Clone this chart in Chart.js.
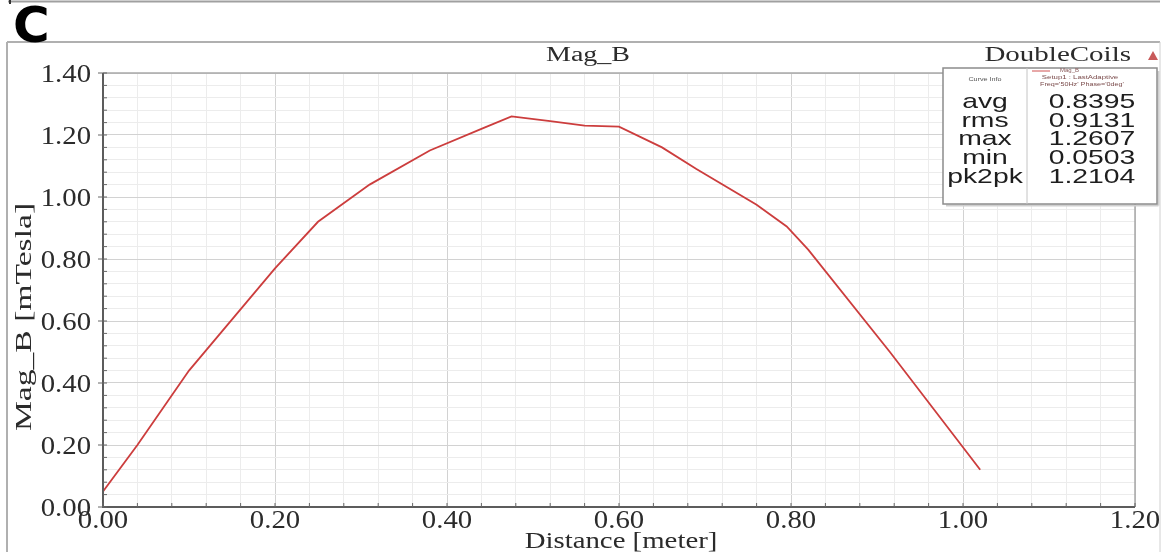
<!DOCTYPE html>
<html lang="en">
<head>
  <meta charset="UTF-8" />
  <title>Mag_B - DoubleCoils</title>
  <script src="https://cdn.jsdelivr.net/npm/chart.js@4.4.1/dist/chart.umd.min.js"></script>
  <style>
    html, body { margin: 0; padding: 0; background: #fff; }
    #wrap { width: 1167px; height: 552px; }
  </style>
</head>
<body>
<div id="wrap"><canvas id="magChart" width="1167" height="552"></canvas></div>
<script>
  // distance along the coil axis [meter] and |B| [mTesla]
  const distance = [0.00, 0.04, 0.10, 0.20, 0.25, 0.31, 0.38, 0.44, 0.475, 0.52, 0.56, 0.60, 0.65, 0.69, 0.76, 0.795, 0.82, 0.915, 1.02];
  const magB = [0.05, 0.20, 0.44, 0.77, 0.92, 1.04, 1.15, 1.22, 1.26, 1.245, 1.23, 1.227, 1.16, 1.09, 0.975, 0.905, 0.83, 0.50, 0.12];

  const xTickLabels = ["0.00", "0.20", "0.40", "0.60", "0.80", "1.00", "1.20"];
  const yTickLabels = ["0.00", "0.20", "0.40", "0.60", "0.80", "1.00", "1.20", "1.40"];

  const statNames = ["avg", "rms", "max", "min", "pk2pk"];
  const statValues = ["0.8395", "0.9131", "1.2607", "0.0503", "1.2104"];

  const minorStep = 0.04;
  const serif = '"Liberation Serif", "Times New Roman", serif';
  const sans = '"Liberation Sans", Arial, sans-serif';

  function gridValues(max) {
    const out = [];
    const n = Math.round(max / minorStep);
    for (let i = 0; i <= n; i++) out.push({ value: Math.round(i * minorStep * 100) / 100 });
    return out;
  }

  function isMajor(v) {
    return Math.abs(v / 0.2 - Math.round(v / 0.2)) < 1e-6;
  }

  // text in the reference is a bit stretched sideways, so draw with a x-scale
  function stretchText(ctx, text, x, y, font, sx, align, color) {
    ctx.save();
    ctx.font = font;
    ctx.fillStyle = color || "#2b2b2b";
    ctx.textAlign = align || "left";
    ctx.textBaseline = "alphabetic";
    ctx.translate(x, y);
    ctx.scale(sx, 1);
    ctx.fillText(text, 0, 0);
    ctx.restore();
  }

  function line(ctx, x1, y1, x2, y2, color, w) {
    ctx.beginPath();
    ctx.moveTo(x1, y1);
    ctx.lineTo(x2, y2);
    ctx.strokeStyle = color;
    ctx.lineWidth = w;
    ctx.stroke();
  }

  const decor = {
    id: "decor",
    beforeDraw(chart) {
      const ctx = chart.ctx;
      ctx.save();
      // frame bits
      line(ctx, 8, 1.5, 1160, 1.5, "#a0a0a0", 2);
      line(ctx, 10, 0, 10, 4, "#333", 2);
      line(ctx, 7, 42, 1160, 42, "#b0b0b0", 2);
      line(ctx, 7, 42, 7, 552, "#b0b0b0", 2);
      line(ctx, 1160, 42, 1160, 552, "#d0d0d0", 1);
      ctx.restore();

      // panel letter
      ctx.save();
      ctx.font = 'bold 50px "DejaVu Sans", sans-serif';
      ctx.fillStyle = "#000";
      ctx.textBaseline = "alphabetic";
      ctx.fillText("C", 13, 42);
      ctx.restore();

      stretchText(ctx, "Mag_B", 588, 61, "20px " + serif, 1.4, "center");
      stretchText(ctx, "DoubleCoils", 1131, 61, "20px " + serif, 1.45, "right");
      ctx.save();
      ctx.beginPath();
      ctx.moveTo(1153, 51);
      ctx.lineTo(1158, 60);
      ctx.lineTo(1148, 60);
      ctx.closePath();
      ctx.fillStyle = "#c85a5a";
      ctx.fill();
      ctx.restore();
    },
    afterDatasetsDraw(chart) {
      const ctx = chart.ctx;
      const a = chart.chartArea;
      const xs = chart.scales.x;
      const ys = chart.scales.y;
      ctx.save();

      // plot border
      line(ctx, a.left, a.top, a.right, a.top, "#a8a8a8", 1.5);
      line(ctx, a.right, a.top, a.right, a.bottom, "#a8a8a8", 1.5);
      line(ctx, a.left, a.top, a.left, a.bottom + 1, "#5c5c5c", 2);
      line(ctx, a.left - 1, a.bottom, a.right, a.bottom, "#5c5c5c", 2);

      // small tick marks
      xs.ticks.forEach(t => {
        const px = xs.getPixelForValue(t.value);
        line(ctx, px, a.bottom, px, a.bottom - 4, "#666", 1);
      });
      ys.ticks.forEach(t => {
        const py = ys.getPixelForValue(t.value);
        line(ctx, a.left, py, a.left + 4, py, "#666", 1);
        if (isMajor(t.value)) line(ctx, a.left - 5, py, a.left, py, "#666", 1);
      });
      ctx.restore();

      // tick labels
      xTickLabels.forEach(l => {
        stretchText(ctx, l, xs.getPixelForValue(parseFloat(l)), 528, "25px " + serif, 1.15, "center");
      });
      yTickLabels.forEach(l => {
        stretchText(ctx, l, 91, ys.getPixelForValue(parseFloat(l)) + 8.5, "25px " + serif, 1.15, "right");
      });

      // axis titles
      stretchText(ctx, "Distance [meter]", 621, 548, "24px " + serif, 1.2, "center");
      ctx.save();
      ctx.translate(31, 317);
      ctx.rotate(-Math.PI / 2);
      stretchText(ctx, "Mag_B [mTesla]", 0, 0, "24px " + serif, 1.4, "center");
      ctx.restore();

      // curve info box
      const bx = 943, by = 68, bw = 214, bh = 136, div = 1027;
      ctx.save();
      ctx.fillStyle = "#fff";
      ctx.fillRect(bx, by, bw, bh);
      line(ctx, bx + bw + 1.5, by + 3, bx + bw + 1.5, by + bh + 1.5, "#cfcfcf", 2);
      line(ctx, bx + 3, by + bh + 1.5, bx + bw + 1.5, by + bh + 1.5, "#cfcfcf", 2);
      ctx.strokeStyle = "#8c8c8c";
      ctx.lineWidth = 1.5;
      ctx.strokeRect(bx, by, bw, bh);
      line(ctx, div, by, div, by + bh, "#c4c4c4", 1);
      ctx.restore();

      stretchText(ctx, "Curve Info", 985, 81, "6px " + sans, 1.2, "center", "#555");
      line(ctx, 1032, 71, 1050, 71, "#d05050", 1);
      stretchText(ctx, "Mag_B", 1060, 72, "5px " + sans, 1.2, "left", "#8a5a5a");
      stretchText(ctx, "Setup1 : LastAdaptive", 1080, 79, "6px " + sans, 1.3, "center", "#7a4a4a");
      stretchText(ctx, "Freq='50Hz' Phase='0deg'", 1082, 86, "6px " + sans, 1.2, "center", "#7a4a4a");

      statNames.forEach((n, i) => {
        const y = 108 + i * 18.7;
        stretchText(ctx, n, 985, y, "21px " + sans, 1.35, "center", "#1e1e1e");
        stretchText(ctx, statValues[i], 1092, y, "21px " + sans, 1.35, "center", "#1e1e1e");
      });
    }
  };

  const gridColor = c => (c.tick && isMajor(c.tick.value)) ? "#d2d2d2" : "#ececec";

  const magChart = new Chart(document.getElementById("magChart"), {
    type: "line",
    data: {
      datasets: [{
        label: "Mag_B",
        data: distance.map((d, i) => ({ x: d, y: magB[i] })),
        borderColor: "#cc3d3d",
        borderWidth: 1.8,
        pointRadius: 0,
        tension: 0,
        fill: false
      }]
    },
    options: {
      responsive: false,
      animation: false,
      devicePixelRatio: 1,
      layout: { padding: { left: 103, right: 32, top: 73, bottom: 45 } },
      plugins: {
        legend: { display: false },
        title: { display: false },
        tooltip: { enabled: false }
      },
      scales: {
        x: {
          type: "linear",
          min: 0,
          max: 1.2,
          afterBuildTicks: s => { s.ticks = gridValues(1.2); },
          ticks: { display: false },
          grid: { color: gridColor, drawTicks: false, lineWidth: 1 },
          border: { display: false }
        },
        y: {
          type: "linear",
          min: 0,
          max: 1.4,
          afterBuildTicks: s => { s.ticks = gridValues(1.4); },
          ticks: { display: false },
          grid: { color: gridColor, drawTicks: false, lineWidth: 1 },
          border: { display: false }
        }
      }
    },
    plugins: [decor]
  });
</script>
</body>
</html>
